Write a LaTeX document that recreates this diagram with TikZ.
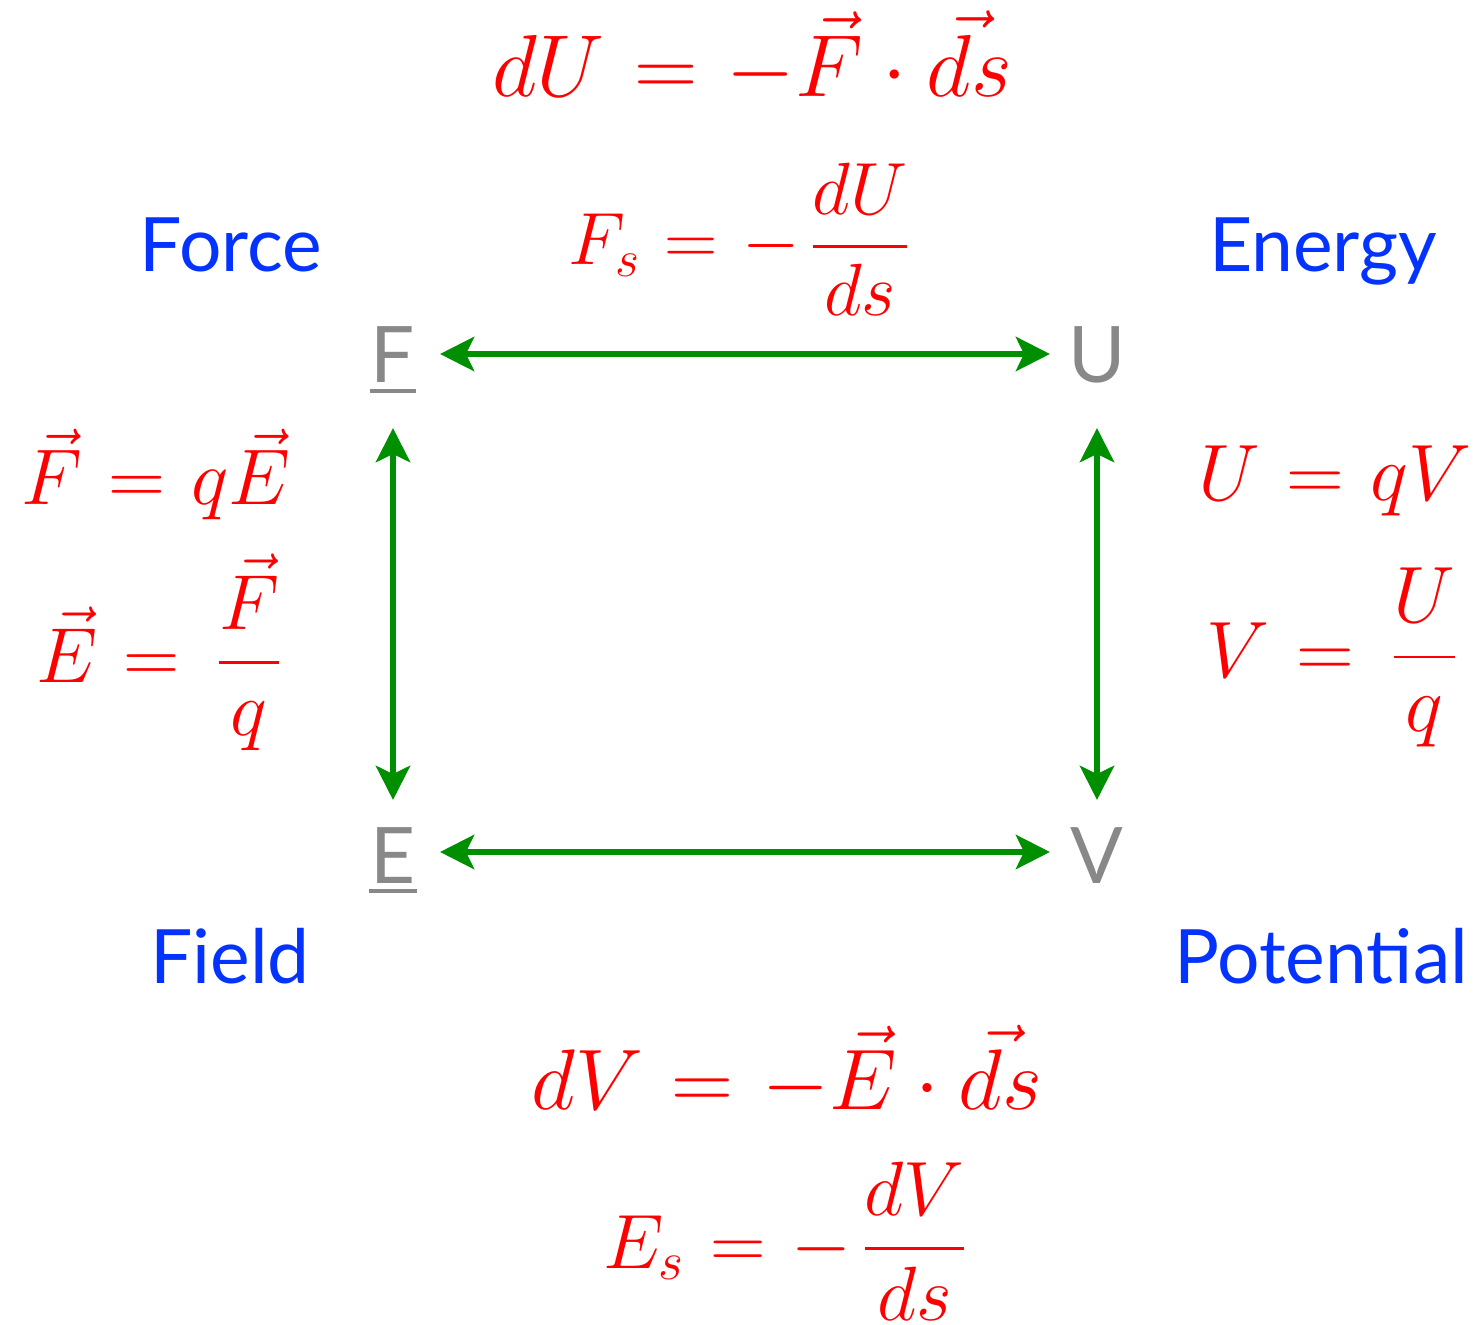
\RequirePackage{fix-cm}
\documentclass[tikz,border=0pt]{standalone}
\usepackage{amsmath}
\usepackage{fontspec}
\setsansfont{Lato}
\usetikzlibrary{arrows.meta}
\definecolor{kred}{RGB}{255,0,0}
\definecolor{kblue}{RGB}{4,51,255}
\definecolor{kgreen}{RGB}{0,143,0}
\definecolor{kgrey}{RGB}{136,136,136}
\newcommand\ulletter[1]{\setbox0\hbox{#1}\leavevmode\rlap{\kern-0.5pt\raisebox{-5pt}{\rule{\dimexpr\wd0+1pt\relax}{2pt}}}\box0}
\newcommand\fgap{\mkern2.5mu}
\newcommand\bigfrac[2]{\genfrac{}{}{1.3pt}{0}{#1}{#2}}
\tikzset{
  eq/.style={text=kred, inner sep=0pt, anchor=base, font=\fontsize{#1}{52}\selectfont},
  lbl/.style={text=kblue, inner sep=0pt, anchor=base, font=\sffamily\fontsize{37.5}{45}\selectfont},
  qty/.style={text=kgrey, inner sep=0pt, anchor=base, font=\sffamily\fontsize{39}{45}\selectfont},
  arr/.style={draw=kgreen, line width=3.3pt, {Stealth[length=17pt,width=17pt,inset=4pt]}-{Stealth[length=17pt,width=17pt,inset=4pt]}}
}
\begin{document}
\thickmuskip=6mu plus 2mu\relax
\begin{tikzpicture}[x=0.5pt,y=-0.5pt]
\useasboundingbox (0,0) rectangle (1476,1325);
% equations
\node[eq=44] (eqtop) at (752,97) {$dU = -\vec{F}\cdot\vec{ds}$};
\node[eq=37] (eqfs) at (739,265) {$\displaystyle F_s = -\fgap\bigfrac{dU}{ds}$};
\node[eq=39.5] (eqfqe) at (156,505) {$\vec{F} = q\vec{E}$};
\node[eq=39] (eqefq) at (159,682) {$\displaystyle \vec{E} = \fgap\bigfrac{\vec{F}}{q}$};
\node[eq=40] (equqv) at (1335,501) {$U = qV$};
\node[eq=40] (eqvuq) at (1332,677) {$\displaystyle V = \fgap\bigfrac{U}{q}$};
\node[eq=43] (eqbot) at (787,1109) {$dV = -\vec{E}\cdot\vec{ds}$};
\node[eq=38.5] (eqes) at (785,1268) {$\displaystyle E_s = -\fgap\bigfrac{dV}{ds}$};
% labels
\node[lbl] (force) at (231,272) {Force};
\node[lbl] (energy) at (1323,272) {Energy};
\node[lbl] (field) at (230,983) {Field};
\node[lbl] (potential) at (1321,983) {Potential};
% quantities
\node[qty] (F) at (393,383) {\ulletter{F}};
\node[qty] (U) at (1097,383) {U};
\node[qty] (E) at (393,883) {\ulletter{E}};
\node[qty] (V) at (1097,883) {V};
% arrows
\draw[arr] ([shift={(47,-29)}]F.base) -- ([shift={(-47,-29)}]U.base);
\draw[arr] ([shift={(47,-31)}]E.base) -- ([shift={(-47,-31)}]V.base);
\draw[arr] ([shift={(0,45)}]F.base) -- ([shift={(0,-83)}]E.base);
\draw[arr] ([shift={(0,45)}]U.base) -- ([shift={(0,-83)}]V.base);
\end{tikzpicture}
\end{document}
